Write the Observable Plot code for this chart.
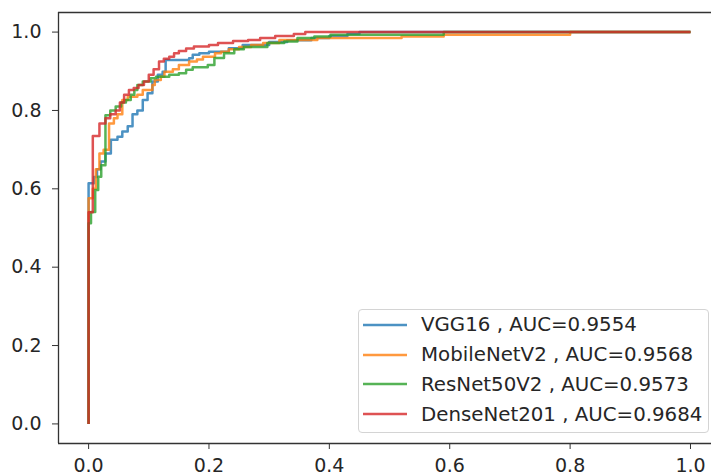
<!DOCTYPE html>
<html>
<head>
<meta charset="utf-8">
<script src="https://cdn.jsdelivr.net/npm/d3@7"></script>
<script src="https://cdn.jsdelivr.net/npm/@observablehq/plot@0.6"></script>
<style>
  html, body { margin: 0; padding: 0; background: #fff; }
  #wrap { position: relative; width: 711px; height: 475px; overflow: hidden; font-family: "DejaVu Sans", sans-serif; }
  #legend { position: absolute; left: 358px; top: 309px; width: 351px; height: 124px; box-sizing: border-box;
            border: 1px solid #d4d4d4; border-radius: 4px; background: rgba(255,255,255,0.8); padding-top: 0px; }
  .row { display: flex; align-items: center; height: 29.8px; }
  .row svg { margin-left: 4px; margin-right: 14px; }
  .row span { font-size: 19.8px; color: #262626; white-space: nowrap; }
</style>
</head>
<body>
<div id="wrap"></div>
<script>
// ---- data ----
const models = ["VGG16", "MobileNetV2", "ResNet50V2", "DenseNet201"];
const aucs = ["0.9554", "0.9568", "0.9573", "0.9684"];
const colors = ["#1f77b4", "#ff7f0e", "#2ca02c", "#d62728"];

const vggFpr = [0, 0, 0.009, 0.014, 0.020, 0.028, 0.037, 0.048, 0.056, 0.065, 0.073, 0.081, 0.090, 0.098, 0.106, 0.115, 0.123, 0.128, 0.167, 0.173, 0.184, 0.200, 0.233, 0.256, 0.300, 0.330, 0.370, 0.400, 0.430, 0.450, 1.0];
const vggTpr = [0, 0.614, 0.630, 0.650, 0.670, 0.690, 0.725, 0.733, 0.746, 0.760, 0.790, 0.800, 0.827, 0.844, 0.874, 0.891, 0.899, 0.929, 0.933, 0.942, 0.946, 0.950, 0.959, 0.967, 0.975, 0.979, 0.985, 0.990, 0.995, 1.0, 1.0];

const mobFpr = [0, 0, 0.007, 0.012, 0.018, 0.025, 0.034, 0.042, 0.048, 0.056, 0.065, 0.081, 0.090, 0.106, 0.110, 0.120, 0.126, 0.140, 0.150, 0.167, 0.180, 0.190, 0.210, 0.220, 0.233, 0.250, 0.270, 0.290, 0.317, 0.380, 0.520, 0.590, 0.800, 1.0];
const mobTpr = [0, 0.576, 0.600, 0.650, 0.690, 0.700, 0.767, 0.780, 0.790, 0.827, 0.835, 0.840, 0.852, 0.865, 0.878, 0.886, 0.899, 0.905, 0.916, 0.925, 0.930, 0.937, 0.946, 0.950, 0.956, 0.962, 0.967, 0.972, 0.980, 0.985, 0.989, 0.993, 1.0, 1.0];

const resFpr = [0, 0, 0.004, 0.011, 0.016, 0.021, 0.028, 0.036, 0.045, 0.054, 0.062, 0.070, 0.076, 0.081, 0.090, 0.103, 0.112, 0.134, 0.150, 0.162, 0.173, 0.198, 0.209, 0.225, 0.242, 0.258, 0.297, 0.325, 0.347, 0.375, 0.402, 0.590, 1.0];
const resTpr = [0, 0.512, 0.541, 0.597, 0.631, 0.660, 0.788, 0.800, 0.810, 0.820, 0.827, 0.840, 0.852, 0.865, 0.874, 0.882, 0.886, 0.891, 0.895, 0.904, 0.910, 0.916, 0.934, 0.946, 0.956, 0.962, 0.972, 0.976, 0.985, 0.989, 0.993, 1.0, 1.0];

const denFpr = [0, 0, 0.007, 0.018, 0.028, 0.036, 0.045, 0.052, 0.059, 0.067, 0.075, 0.083, 0.092, 0.100, 0.108, 0.117, 0.125, 0.134, 0.142, 0.150, 0.162, 0.175, 0.200, 0.215, 0.240, 0.265, 0.285, 0.310, 0.341, 0.360, 1.0];
const denTpr = [0, 0.540, 0.735, 0.767, 0.780, 0.790, 0.800, 0.820, 0.840, 0.852, 0.857, 0.865, 0.874, 0.891, 0.905, 0.925, 0.932, 0.937, 0.946, 0.952, 0.958, 0.963, 0.967, 0.972, 0.977, 0.980, 0.985, 0.990, 0.995, 1.0, 1.0];

const xTicks = [0, 0.2, 0.4, 0.6, 0.8, 1.0];
const yTicks = [0, 0.2, 0.4, 0.6, 0.8, 1.0];

// ---- build table ----
const series = [[vggFpr, vggTpr], [mobFpr, mobTpr], [resFpr, resTpr], [denFpr, denTpr]];
const rows = [];
series.forEach(([f, t], i) => f.forEach((v, j) => rows.push({model: models[i], fpr: v, tpr: t[j]})));

const xDom = [-0.05, 1.0349];
const yDom = [-0.05, 1.05];
const axisColor = "#333";

const chart = Plot.plot({
  width: 711,
  height: 475,
  marginLeft: 58,
  marginRight: 0,
  marginTop: 12,
  marginBottom: 32,
  style: {fontFamily: "DejaVu Sans, sans-serif", fontSize: "19px", color: "#262626", background: "#fff"},
  x: {domain: xDom, ticks: xTicks, tickFormat: d3.format(".1f"), tickSize: 6, tickPadding: 9, label: null},
  y: {domain: yDom, ticks: yTicks, tickFormat: d3.format(".1f"), tickSize: 6, tickPadding: 11, label: null},
  color: {domain: models, range: colors},
  marks: [
    Plot.line(rows, {x: "fpr", y: "tpr", z: "model", stroke: "model", curve: "step-after",
      strokeWidth: 2.5, strokeOpacity: 0.8, strokeLinejoin: "round", strokeLinecap: "butt"}),
    Plot.ruleX([xDom[0]], {stroke: axisColor, strokeWidth: 1.3}),
    Plot.ruleY(yDom, {stroke: axisColor, strokeWidth: 1.3})
  ]
});
chart.querySelectorAll("[aria-label='x-axis tick'] path, [aria-label='y-axis tick'] path").forEach(p => p.setAttribute("stroke", axisColor));

const wrap = document.getElementById("wrap");
wrap.appendChild(chart);

// ---- legend ----
const legend = document.createElement("div");
legend.id = "legend";
models.forEach((m, i) => {
  const r = document.createElement("div");
  r.className = "row";
  r.innerHTML = `<svg width="44" height="6"><line x1="0" y1="3" x2="44" y2="3" stroke="${colors[i]}" stroke-opacity="0.8" stroke-width="2.5"/></svg><span>${m} , AUC=${aucs[i]}</span>`;
  legend.appendChild(r);
});
wrap.appendChild(legend);
</script>
</body>
</html>
